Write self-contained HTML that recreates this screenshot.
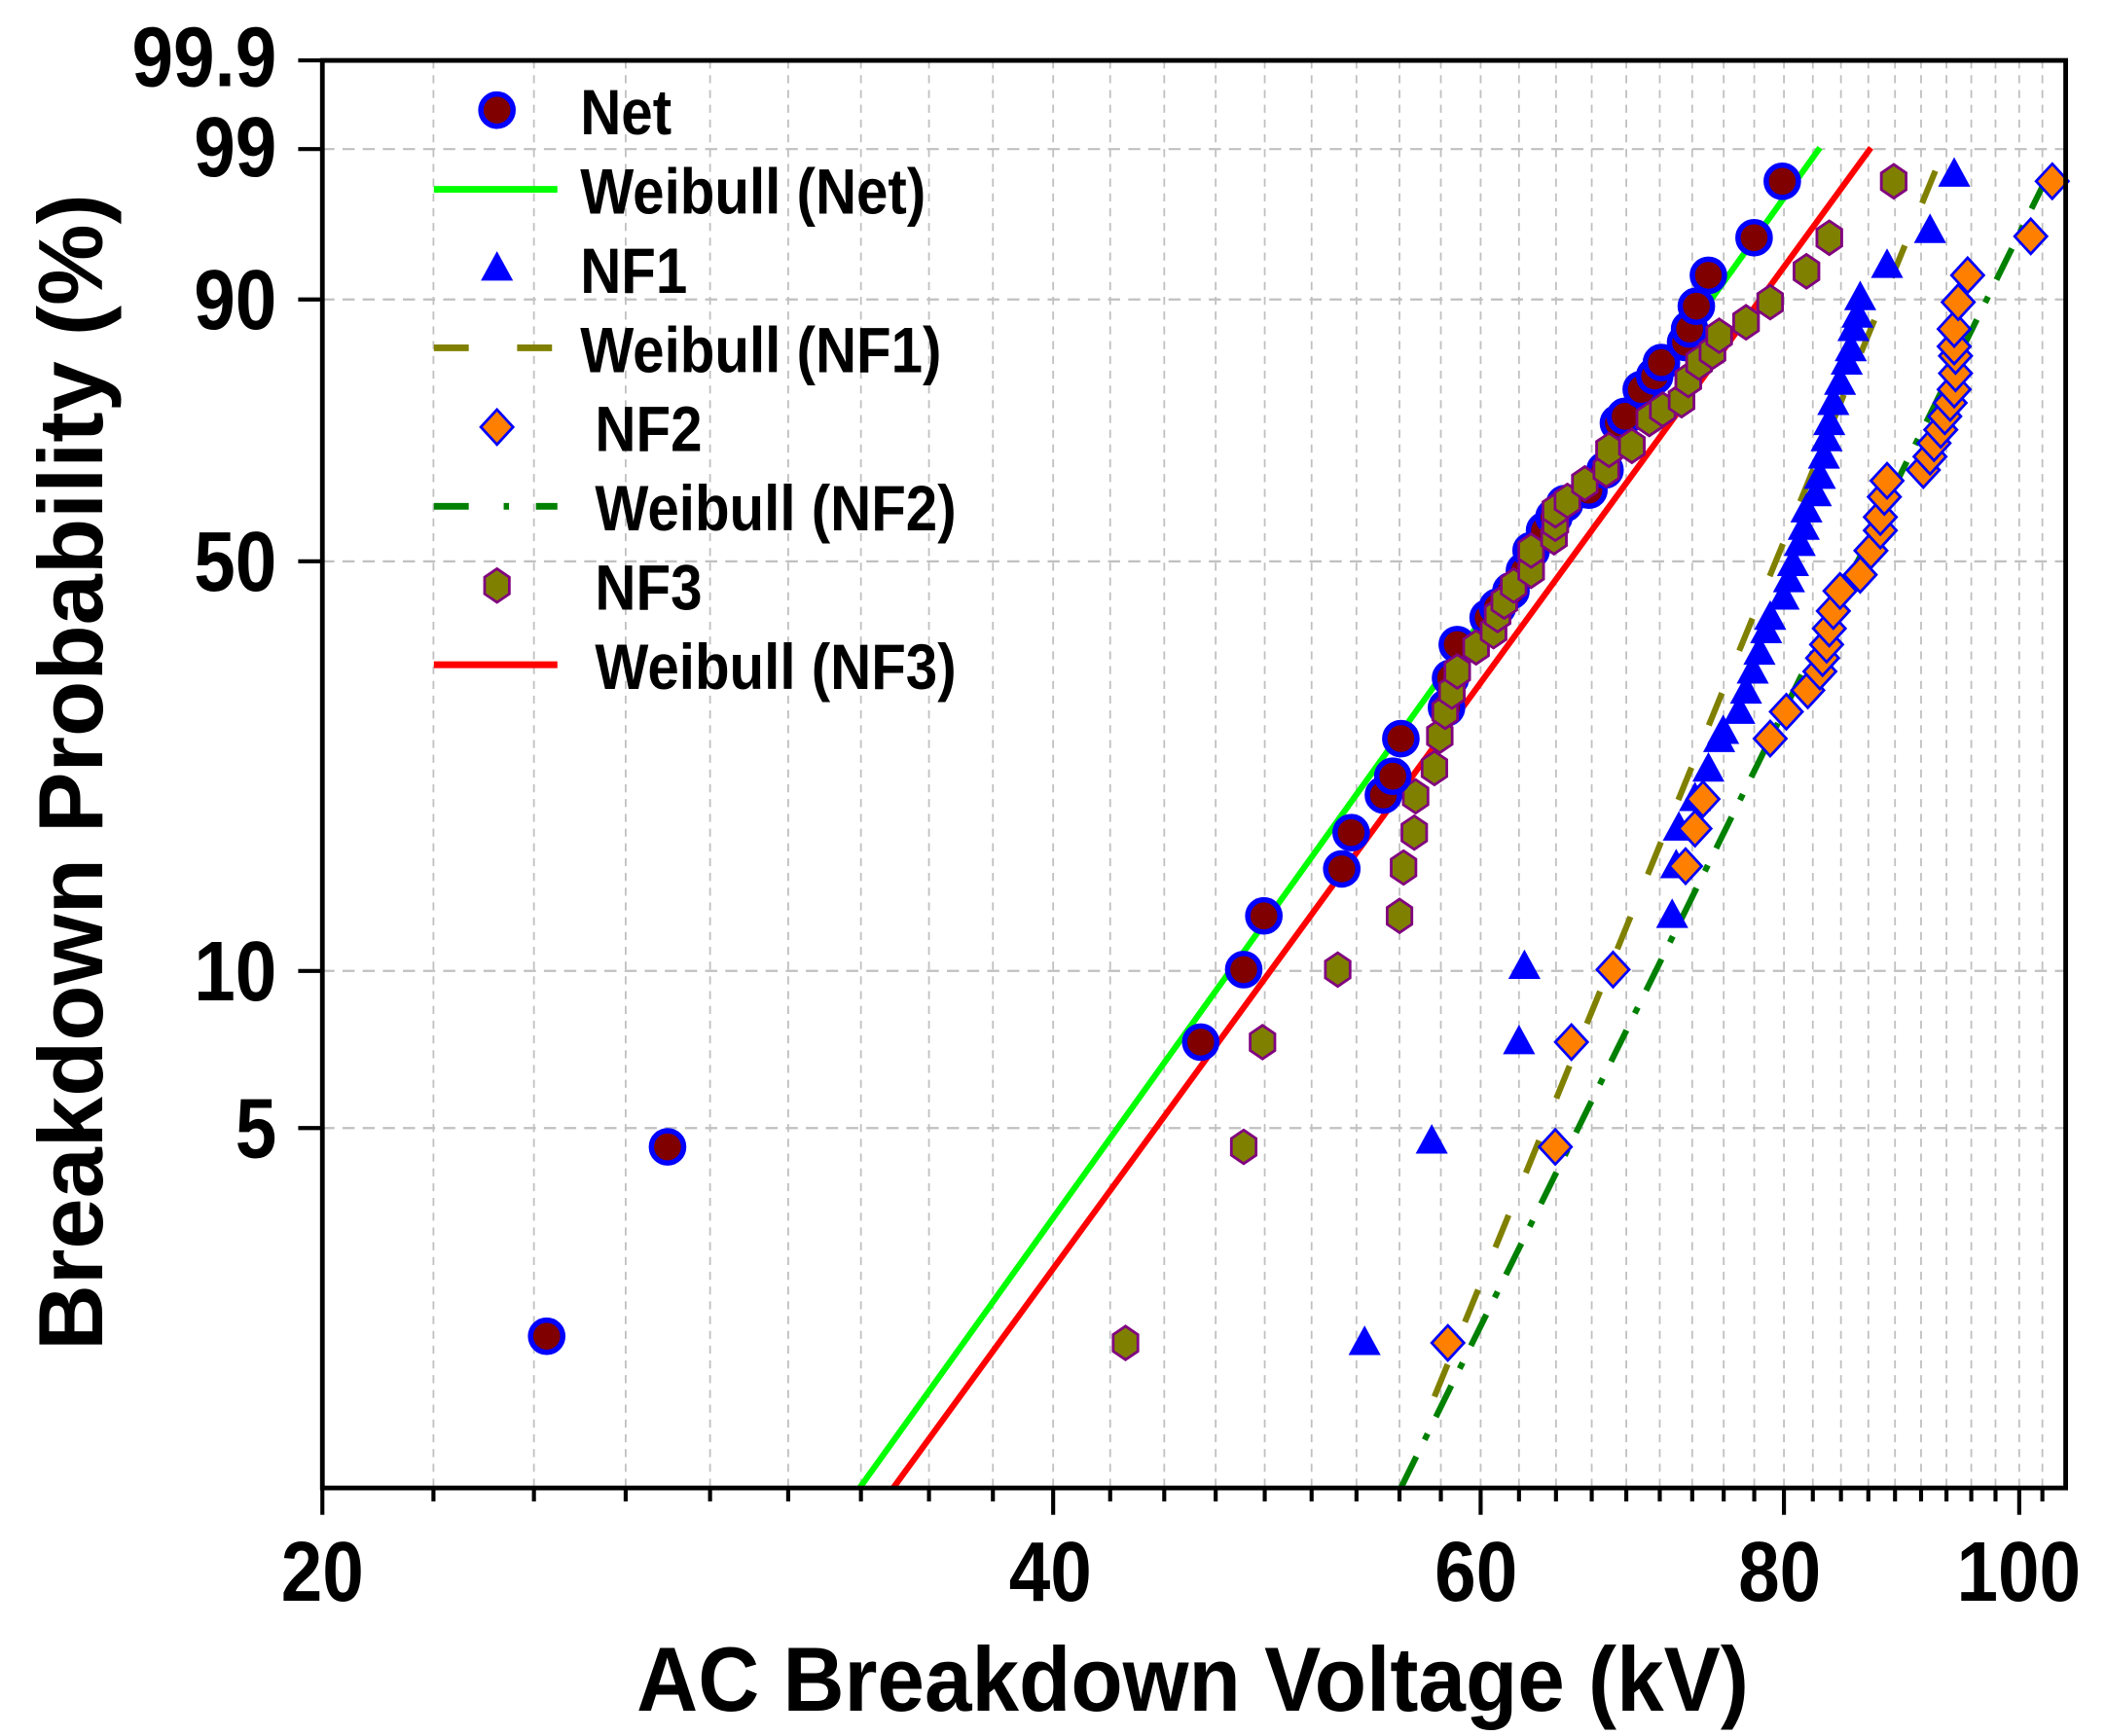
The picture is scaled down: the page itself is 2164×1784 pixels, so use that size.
<!DOCTYPE html>
<html><head><meta charset="utf-8"><style>
html,body{margin:0;padding:0;background:#fff;width:2164px;height:1784px;overflow:hidden}
svg{display:block}
text{font-family:"Liberation Sans",Arial,sans-serif;font-weight:bold;fill:#000}
</style></head><body>
<svg id="s" width="2164" height="1784" viewBox="0 0 1568 1292.7" xmlns="http://www.w3.org/2000/svg">
<defs><clipPath id="c"><rect x="240" y="45" width="1298" height="1063"/></clipPath></defs>
<g id="grid"></g>
<g id="lines" clip-path="url(#c)">
<line x1="640" y1="1108" x2="1355" y2="110" stroke="#00ff00" stroke-width="4.5"/>
<line x1="665" y1="1108" x2="1393" y2="110" stroke="#ff0000" stroke-width="4.5"/>
<line x1="1068" y1="1040" x2="1448" y2="110" stroke="#808000" stroke-width="4.5" stroke-dasharray="26 34"/>
<line x1="1043" y1="1108" x2="1530" y2="120" stroke="#008000" stroke-width="4.5" stroke-dasharray="26 14 5 14"/>
</g>
<g id="pts"></g>
<g id="axes" stroke="#000" stroke-width="3.5" fill="none">
<rect x="240" y="45" width="1298" height="1063"/>
</g>
<g id="ticks" stroke="#000" stroke-width="3"></g>
<g font-size="63" text-anchor="end">
<text transform="translate(206,64) scale(0.88,1)">99.9</text>
<text transform="translate(206,131) scale(0.88,1)">99</text>
<text transform="translate(206,245) scale(0.88,1)">90</text>
<text transform="translate(206,440) scale(0.88,1)">50</text>
<text transform="translate(206,745) scale(0.88,1)">10</text>
<text transform="translate(206,862) scale(0.88,1)">5</text>
</g>
<g font-size="63" text-anchor="middle">
<text transform="translate(240,1192) scale(0.88,1)">20</text>
<text transform="translate(782,1192) scale(0.88,1)">40</text>
<text transform="translate(1099,1192) scale(0.88,1)">60</text>
<text transform="translate(1325,1192) scale(0.88,1)">80</text>
<text transform="translate(1503,1192) scale(0.88,1)">100</text>
</g>
<text transform="translate(888,1274) scale(0.93,1)" font-size="68" text-anchor="middle">AC Breakdown Voltage (kV)</text>
<text transform="translate(76,575) rotate(-90) scale(1.0,1)" font-size="68" text-anchor="middle">Breakdown Probability (%)</text>
<g font-size="48" id="leg">
<text transform="translate(432,100) scale(0.88,1)">Net</text>
<text transform="translate(432,159) scale(0.88,1)">Weibull (Net)</text>
<text transform="translate(432,218) scale(0.88,1)">NF1</text>
<text transform="translate(432,277) scale(0.88,1)">Weibull (NF1)</text>
<text transform="translate(443,336) scale(0.88,1)">NF2</text>
<text transform="translate(443,395) scale(0.88,1)">Weibull (NF2)</text>
<text transform="translate(443,454) scale(0.88,1)">NF3</text>
<text transform="translate(443,513) scale(0.88,1)">Weibull (NF3)</text>
</g>
<line x1="323" y1="141" x2="415" y2="141" stroke="#00ff00" stroke-width="5"/>
<line x1="323" y1="259" x2="415" y2="259" stroke="#808000" stroke-width="5" stroke-dasharray="26 36"/>
<line x1="323" y1="377" x2="415" y2="377" stroke="#008000" stroke-width="5" stroke-dasharray="26 26 4 20"/>
<line x1="323" y1="495" x2="415" y2="495" stroke="#ff0000" stroke-width="5"/>
</svg>
<script>
var NS="http://www.w3.org/2000/svg";
function el(p,t,a){var e=document.createElementNS(NS,t);for(var k in a)e.setAttribute(k,a[k]);p.appendChild(e);return e;}
var g=document.getElementById('grid'),tk=document.getElementById('ticks'),P=document.getElementById('pts');
function X(v){return 240+785*Math.log(v/20);}
for(var k=1;k<=38;k++){var v=20+k*20/9,x=X(v);if(x>1537)break;
 el(g,'line',{x1:x,y1:45,x2:x,y2:1108,stroke:'#c0c0c0','stroke-width':1.3,'stroke-dasharray':'6 5'});
 var major=(k%9==0);el(tk,'line',{x1:x,y1:1108,x2:x,y2:major?1128:1118});}
el(tk,'line',{x1:240,y1:1108,x2:240,y2:1128});
[111,223,418,723,840].forEach(function(y){el(g,'line',{x1:240,y1:y,x2:1538,y2:y,stroke:'#c0c0c0','stroke-width':1.6,'stroke-dasharray':'9 6'});});
[45,111,223,418,723,840].forEach(function(y){el(tk,'line',{x1:222,y1:y,x2:240,y2:y});});
var net=[[407,995],[497,854],[894,776],[926,722],[941,682],[999,647],[1006,620],[1030,592],[1037,578],[1043,550],[1077,527],[1080,505],[1085,480],[1108,460],[1115,452],[1125,440],[1135,425],[1140,410],[1150,395],[1157,385],[1165,375],[1183,365],[1195,350],[1205,315],[1210,310],[1222,290],[1232,280],[1237,270],[1255,255],[1258,245],[1263,228],[1272,205],[1306,177],[1327,135]];
var nf3=[[838,1000],[926,854],[940,776],[996,722],[1042,682],[1045,646],[1053,620],[1054,593],[1068,572],[1072,548],[1076,530],[1081,515],[1085,500],[1099,482],[1112,470],[1115,458],[1120,448],[1127,436],[1140,425],[1140,410],[1157,400],[1158,390],[1158,380],[1167,373],[1180,360],[1196,350],[1198,335],[1215,332],[1228,312],[1238,305],[1252,298],[1257,283],[1265,270],[1275,262],[1280,250],[1300,240],[1318,225],[1345,202],[1362,177],[1410,135]];
var nf1=[[1016,1000],[1066,850],[1131,776],[1135,720],[1245,682],[1248,645],[1250,617],[1262,595],[1272,573],[1280,551],[1283,545],[1295,530],[1300,515],[1305,500],[1310,486],[1315,470],[1318,460],[1328,445],[1332,432],[1335,420],[1340,405],[1343,393],[1345,380],[1352,368],[1355,355],[1358,340],[1360,327],[1362,315],[1365,300],[1370,285],[1375,270],[1378,260],[1380,245],[1383,235],[1385,222],[1405,198],[1437,172],[1455,130]];
var nf2=[[1078,1000],[1158,854],[1170,776],[1201,722],[1255,645],[1262,617],[1268,595],[1318,550],[1330,530],[1346,514],[1355,500],[1357,490],[1360,480],[1362,468],[1365,455],[1370,440],[1385,428],[1393,410],[1400,395],[1400,385],[1403,370],[1405,358],[1432,350],[1437,340],[1440,330],[1445,320],[1448,310],[1452,300],[1455,290],[1456,278],[1456,265],[1455,258],[1455,245],[1458,225],[1465,205],[1512,176],[1528,135]];
function circ(x,y){el(P,'circle',{cx:x,cy:y,r:12,fill:'#800000',stroke:'#0000ff','stroke-width':4});}
function hex(x,y){var r=12.5,s='';for(var i=0;i<6;i++){var a=Math.PI/6+i*Math.PI/3;s+=(x+r*Math.cos(a)*0.85)+','+(y+r*Math.sin(a))+' ';}
 el(P,'polygon',{points:s,fill:'#808000',stroke:'#800080','stroke-width':2});}
function tri(x,y){el(P,'polygon',{points:x+','+(y-13)+' '+(x-12)+','+(y+9)+' '+(x+12)+','+(y+9),fill:'#0000ff'});}
function dia(x,y){el(P,'polygon',{points:x+','+(y-13)+' '+(x+12)+','+y+' '+x+','+(y+13)+' '+(x-12)+','+y,fill:'#ff8000',stroke:'#0000ff','stroke-width':2});}
nf3.forEach(function(p){hex(p[0],p[1]);});
net.forEach(function(p){circ(p[0],p[1]);});
nf3.slice(10).forEach(function(p){hex(p[0],p[1]);});
nf1.forEach(function(p){tri(p[0],p[1]);});
nf2.forEach(function(p){dia(p[0],p[1]);});
circ(370,82);tri(370,200);dia(370,318);hex(370,436);
</script>
</body></html>
